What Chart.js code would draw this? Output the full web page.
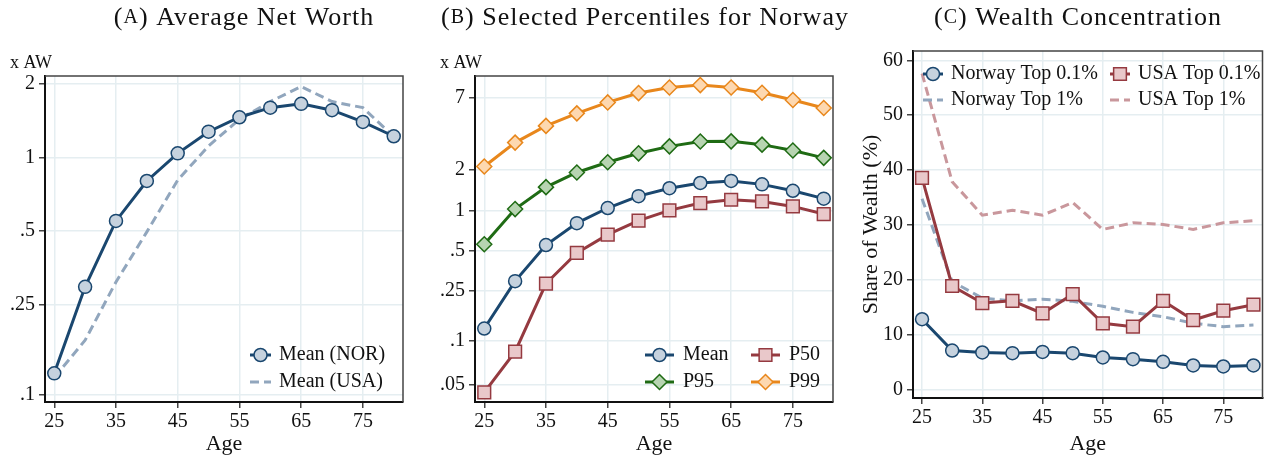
<!DOCTYPE html>
<html>
<head>
<meta charset="utf-8">
<script src="https://cdn.jsdelivr.net/npm/chart.js@4.4.1/dist/chart.umd.min.js"></script>
<style>
  html, body { margin: 0; padding: 0; background: #fff; overflow: hidden; }
  #wrap { position: relative; width: 1273px; height: 460px; }
  canvas { position: absolute; top: 0; }
</style>
</head>
<body>
<div id="wrap">
  <canvas id="chartA" width="424" height="460" style="left:0px"></canvas>
  <canvas id="chartB" width="444" height="460" style="left:424px"></canvas>
  <canvas id="chartC" width="425" height="460" style="left:848px"></canvas>
</div>
<script>
// ages on the x axis
const ages = [25, 30, 35, 40, 45, 50, 55, 60, 65, 70, 75, 80];
const ageTicks = [25, 35, 45, 55, 65, 75];

// panel A: average net worth (x average wage)
const meanNor = [0.131, 0.296, 0.551, 0.803, 1.042, 1.278, 1.464, 1.603, 1.661, 1.565, 1.401, 1.224];
const meanUsa = [0.126, 0.179, 0.310, 0.497, 0.810, 1.117, 1.437, 1.697, 1.955, 1.697, 1.603, 1.220];
const aTicks = [0.107, 0.25, 0.5, 1, 2];
const aTickLabels = ['.1', '.25', '.5', '1', '2'];

// panel B: percentiles for Norway
const p50 = [0.0436, 0.088, 0.284, 0.481, 0.659, 0.838, 1.0, 1.134, 1.201, 1.167, 1.071, 0.939];
const p95 = [0.558, 1.023, 1.492, 1.92, 2.29, 2.67, 3.01, 3.27, 3.28, 3.10, 2.80, 2.47];
const p99 = [2.13, 3.21, 4.28, 5.31, 6.41, 7.53, 8.29, 8.64, 8.29, 7.57, 6.68, 5.82];
const bTicks = [0.05, 0.107, 0.25, 0.5, 1, 2, 7];
const bTickLabels = ['.05', '.1', '.25', '.5', '1', '2', '7'];

// panel C: wealth concentration (%)
const norTop01 = [12.85, 7.15, 6.79, 6.67, 6.9, 6.67, 5.88, 5.57, 5.09, 4.42, 4.24, 4.42];
const usaTop01 = [38.6, 18.9, 15.8, 16.2, 13.9, 17.4, 12.1, 11.5, 16.2, 12.7, 14.4, 15.5];
const norTop1 = [34.8, 19.7, 16.7, 16.2, 16.5, 16.1, 15.2, 14.1, 13.3, 12.1, 11.5, 11.8];
const usaTop1 = [57.6, 37.9, 31.8, 32.7, 31.8, 34.1, 29.2, 30.4, 30.1, 29.2, 30.4, 30.8];
const cTicks = [0, 10, 20, 30, 40, 50, 60];

const SERIF = "'Liberation Serif', 'Times New Roman', serif";
Chart.defaults.font.family = SERIF;
Chart.defaults.color = '#111';

const NAVY = '#1a476f', NAVY_FILL = '#c6d2de';
const MAROON = '#953a40', MAROON_FILL = '#e9c8ca';
const GREEN = '#1f6b14', GREEN_FILL = '#b7d4b1';
const ORANGE = '#e8871c', ORANGE_FILL = '#fdd8b0';
const BLUEGRAY = '#91a6bd', PINK = '#c9979c';
const GRID = '#e5eef1';

function pts(vals) {
  return ages.map((a, i) => ({ x: a, y: vals[i] }));
}

function solid(label, vals, color, fill, style, radius) {
  return {
    label: label, data: pts(vals),
    borderColor: color, borderWidth: 3,
    pointStyle: style, pointRadius: radius, pointHoverRadius: radius,
    pointBackgroundColor: fill, pointBorderColor: color, pointBorderWidth: 1.5,
    tension: 0
  };
}

function dashed(label, vals, color) {
  return {
    label: label, data: pts(vals),
    borderColor: color, borderWidth: 3, borderDash: [9, 5],
    pointRadius: 0, tension: 0
  };
}

function xAxis(h) {
  return {
    type: 'linear', min: 23.5, max: 81.5,
    afterBuildTicks: s => { s.ticks = ageTicks.map(v => ({ value: v })); },
    afterFit: s => { s.height = h; },
    grid: { color: GRID, lineWidth: 1.5, tickLength: 6, tickColor: '#444', tickWidth: 1.5 },
    border: { color: '#111', width: 2 },
    ticks: { font: { size: 20 }, color: '#111', padding: 2, maxRotation: 0, autoSkip: false },
    title: { display: true, text: 'Age', font: { size: 22 }, color: '#111', padding: { top: 0, bottom: 3 } }
  };
}

function yAxis(type, min, max, tickVals, tickLabels, w) {
  return {
    type: type, min: min, max: max,
    afterBuildTicks: s => { s.ticks = tickVals.map(v => ({ value: v })); },
    afterFit: s => { s.width = w; },
    grid: { color: GRID, lineWidth: 1.5, tickLength: 6, tickColor: '#444', tickWidth: 1.5 },
    border: { color: '#111', width: 2 },
    ticks: { font: { size: 20 }, color: '#111', padding: 4, autoSkip: false,
             callback: (v, i) => tickLabels[i] }
  };
}

// thin frame on the top and right of the plot region
const frame = {
  id: 'frame',
  beforeDatasetsDraw(chart) {
    const { ctx, chartArea: a } = chart;
    ctx.save();
    ctx.strokeStyle = '#444';
    ctx.lineWidth = 1.5;
    ctx.beginPath();
    ctx.moveTo(a.left, a.top);
    ctx.lineTo(a.right, a.top);
    ctx.lineTo(a.right, a.bottom);
    ctx.stroke();
    ctx.restore();
  }
};

// panel caption with small-caps letter, and the unit note above the y axis
const panelText = {
  id: 'panelText',
  afterDraw(chart, args, o) {
    const ctx = chart.ctx;
    ctx.save();
    ctx.fillStyle = '#111';
    ctx.textBaseline = 'middle';
    ctx.letterSpacing = '1px';
    const big = '26px ' + SERIF, small = '20px ' + SERIF;
    const parts = [['(', big], [o.letter, small], [') ' + o.title, big]];
    let total = 0;
    parts.forEach(p => { ctx.font = p[1]; total += ctx.measureText(p[0]).width; });
    let x = o.x - total / 2;
    ctx.textAlign = 'left';
    parts.forEach(p => { ctx.font = p[1]; ctx.fillText(p[0], x, 18); x += ctx.measureText(p[0]).width; });
    ctx.letterSpacing = '0px';
    if (o.unit) {
      ctx.font = '18px ' + SERIF;
      ctx.fillText(o.unit, o.unitX, 63);
    }
    ctx.restore();
  }
};

// legend drawn inside the plot region
const insideLegend = {
  id: 'insideLegend',
  afterDatasetsDraw(chart, args, o) {
    if (!o.items) return;
    const { ctx, chartArea: a } = chart;
    ctx.save();
    ctx.font = '20px ' + SERIF;
    ctx.textBaseline = 'middle';
    ctx.textAlign = 'left';
    o.items.forEach(it => {
      const ds = chart.data.datasets[it.index];
      const x0 = a.left + it.x, y = a.top + it.y;
      ctx.strokeStyle = ds.borderColor;
      ctx.lineWidth = ds.borderWidth;
      ctx.setLineDash(ds.borderDash || []);
      ctx.beginPath();
      ctx.moveTo(x0, y);
      ctx.lineTo(x0 + o.sample, y);
      ctx.stroke();
      ctx.setLineDash([]);
      if (ds.pointRadius > 0) {
        ctx.fillStyle = ds.pointBackgroundColor;
        ctx.strokeStyle = ds.pointBorderColor;
        ctx.lineWidth = ds.pointBorderWidth;
        Chart.helpers.drawPoint(ctx, { pointStyle: ds.pointStyle, radius: ds.pointRadius, borderWidth: ds.pointBorderWidth }, x0 + o.sample / 2, y);
      }
      ctx.fillStyle = '#111';
      ctx.fillText(ds.label, x0 + o.sample + o.gap, y);
    });
    ctx.restore();
  }
};

Chart.register(frame, panelText, insideLegend);

function baseOptions() {
  return {
    responsive: false, animation: false, devicePixelRatio: 1,
    events: [],
    plugins: { legend: { display: false }, tooltip: { enabled: false } }
  };
}

// (A)
const optA = baseOptions();
optA.layout = { padding: { top: 76, right: 21, left: 0, bottom: 0 } };
optA.scales = { x: xAxis(58), y: yAxis('logarithmic', 0.1, 2.16, aTicks, aTickLabels, 45) };
optA.plugins.panelText = { letter: 'A', title: 'Average Net Worth', x: 244, unit: 'x AW', unitX: 10 };
optA.plugins.insideLegend = { sample: 21, gap: 8, items: [
  { index: 0, x: 205, y: 279 }, { index: 1, x: 205, y: 306 } ] };
new Chart(document.getElementById('chartA'), {
  type: 'line',
  data: { datasets: [
    solid('Mean (NOR)', meanNor, NAVY, NAVY_FILL, 'circle', 6.5),
    dashed('Mean (USA)', meanUsa, BLUEGRAY)
  ] },
  options: optA
});

// (B)
const optB = baseOptions();
optB.layout = { padding: { top: 76, right: 35, left: 0, bottom: 0 } };
optB.scales = { x: xAxis(58), y: yAxis('logarithmic', 0.037, 10.1, bTicks, bTickLabels, 51) };
optB.plugins.panelText = { letter: 'B', title: 'Selected Percentiles for Norway', x: 221, unit: 'x AW', unitX: 16 };
optB.plugins.insideLegend = { sample: 29, gap: 9, items: [
  { index: 0, x: 170, y: 279 }, { index: 1, x: 276, y: 279 },
  { index: 2, x: 170, y: 306 }, { index: 3, x: 276, y: 306 } ] };
new Chart(document.getElementById('chartB'), {
  type: 'line',
  data: { datasets: [
    solid('Mean', meanNor, NAVY, NAVY_FILL, 'circle', 6.5),
    solid('P50', p50, MAROON, MAROON_FILL, 'rect', 9),
    solid('P95', p95, GREEN, GREEN_FILL, 'rectRot', 7.5),
    solid('P99', p99, ORANGE, ORANGE_FILL, 'rectRot', 7.5)
  ] },
  options: optB
});

// (C)
const optC = baseOptions();
optC.layout = { padding: { top: 51, right: 9, left: 0, bottom: 0 } };
const yC = yAxis('linear', -1.5, 61.7, cTicks, cTicks.map(String), 65);
yC.title = { display: true, text: 'Share of Wealth (%)', font: { size: 22 }, color: '#111', padding: { top: 10, bottom: 0 } };
optC.scales = { x: xAxis(62), y: yC };
optC.plugins.panelText = { letter: 'C', title: 'Wealth Concentration', x: 230 };
optC.plugins.insideLegend = { sample: 20, gap: 8, items: [
  { index: 0, x: 10, y: 23 }, { index: 1, x: 197, y: 23 },
  { index: 2, x: 10, y: 49 }, { index: 3, x: 197, y: 49 } ] };
new Chart(document.getElementById('chartC'), {
  type: 'line',
  data: { datasets: [
    solid('Norway Top 0.1%', norTop01, NAVY, NAVY_FILL, 'circle', 6.5),
    solid('USA Top 0.1%', usaTop01, MAROON, MAROON_FILL, 'rect', 9),
    dashed('Norway Top 1%', norTop1, BLUEGRAY),
    dashed('USA Top 1%', usaTop1, PINK)
  ] },
  options: optC
});
</script>
</body>
</html>
